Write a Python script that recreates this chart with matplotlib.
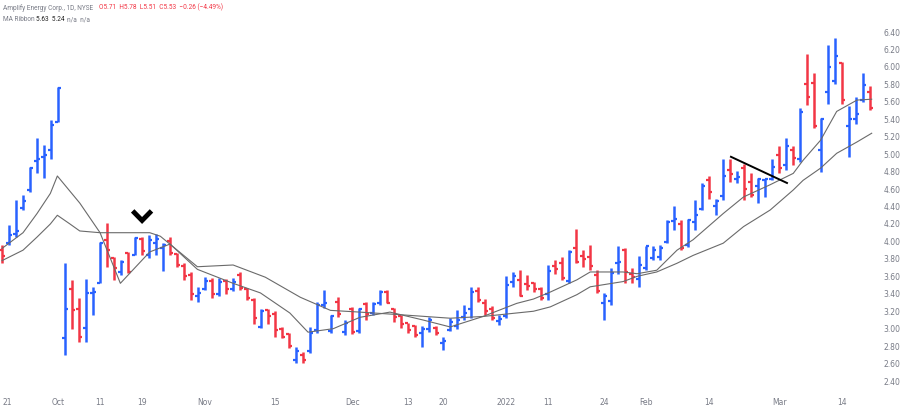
import matplotlib
matplotlib.use("Agg")
import matplotlib.pyplot as plt
import numpy as np

# OHLC per trading day (Sep 21 2021 .. Mar 18 2022)
opens = [3.90,3.98,4.08,4.38,4.59,4.92,4.97,5.05,5.37,2.89,3.45,3.23,3.01,3.41,3.52,4.02,3.81,3.65,3.87,3.85,
         4.03,3.84,3.98,3.93,4.00,3.86,3.72,3.62,3.38,3.46,3.55,3.40,3.55,3.46,3.62,3.45,3.33,3.02,3.21,3.17,
         3.00,2.94,2.64,2.70,2.74,2.98,3.27,2.97,3.31,2.96,3.22,2.97,3.28,3.18,3.30,3.42,3.22,3.15,3.06,3.03,
         2.95,3.00,3.01,2.84,2.99,3.03,3.13,3.22,3.43,3.30,3.22,3.09,3.14,3.53,3.56,3.51,3.52,3.46,3.40,3.72,
         3.75,3.55,3.92,3.83,3.82,3.62,3.30,3.32,3.75,3.90,3.63,3.57,3.69,3.81,3.82,3.99,4.23,4.20,3.96,4.22,
         4.37,4.70,4.41,4.52,4.82,4.72,4.84,4.68,4.64,4.70,4.72,4.99,4.88,5.05,4.94,5.80,5.82,5.05,5.71,5.84,
         6.05,5.32,5.40,5.62,5.71]
highs = [3.96,4.19,4.47,4.53,4.85,5.18,5.10,5.39,5.77,3.75,3.56,3.35,3.57,3.48,3.99,4.21,3.82,3.79,3.88,4.05,
         4.05,4.07,4.08,3.98,4.05,3.87,3.75,3.65,3.48,3.59,3.58,3.58,3.57,3.58,3.65,3.47,3.35,3.22,3.22,3.20,
         3.02,2.95,2.79,2.73,3.02,3.31,3.44,3.16,3.36,3.10,3.25,3.24,3.31,3.31,3.44,3.44,3.24,3.16,3.07,3.04,
         3.03,3.13,3.03,2.90,3.12,3.21,3.27,3.48,3.48,3.34,3.26,3.16,3.60,3.645,3.67,3.615,3.54,3.48,3.73,3.79,
         3.825,3.90,4.14,3.90,3.96,3.67,3.405,3.69,3.95,3.92,3.69,3.83,3.95,3.95,3.96,4.245,4.41,4.245,4.26,4.47,
         4.67,4.75,4.49,4.94,4.95,4.81,4.89,4.79,4.73,4.72,4.94,5.09,5.18,5.09,5.525,6.15,5.93,5.42,6.25,6.33,
         6.06,5.55,5.66,5.93,5.78]
lows = [3.75,3.96,4.05,4.36,4.57,4.78,4.73,4.95,5.37,2.70,3.00,2.85,2.85,3.16,3.52,3.71,3.56,3.62,3.64,3.84,
        3.84,3.81,3.84,3.66,3.84,3.71,3.56,3.33,3.31,3.44,3.35,3.37,3.40,3.43,3.44,3.33,3.05,3.01,3.05,2.90,
        2.89,2.78,2.61,2.61,2.72,2.95,3.24,2.95,3.13,2.93,2.94,2.95,3.10,3.16,3.27,3.29,3.08,3.01,2.95,2.90,
        2.79,2.96,2.93,2.76,2.97,3.00,3.10,3.12,3.31,3.16,3.10,3.04,3.12,3.48,3.37,3.44,3.42,3.33,3.33,3.63,
        3.56,3.52,3.75,3.71,3.67,3.405,3.10,3.27,3.63,3.52,3.52,3.48,3.67,3.79,3.79,3.98,4.13,3.90,3.94,4.13,
        4.36,4.49,4.30,4.47,4.685,4.666,4.48,4.51,4.44,4.51,4.70,4.79,4.82,4.88,4.91,5.56,5.30,4.80,5.58,5.80,
        5.58,4.97,5.35,5.60,5.51]
closes = [3.83,4.07,4.12,4.46,4.84,4.94,4.99,5.33,5.76,3.23,3.21,2.90,3.41,3.42,3.98,3.90,3.69,3.76,3.65,4.04,
          3.89,4.02,4.03,3.96,3.87,3.73,3.60,3.40,3.41,3.55,3.40,3.53,3.45,3.53,3.47,3.35,3.12,3.20,3.15,2.98,
          2.91,2.80,2.74,2.64,2.95,3.27,3.30,3.15,3.17,3.07,2.96,3.22,3.17,3.28,3.42,3.30,3.13,3.05,2.98,2.93,
          3.00,3.10,2.95,2.86,3.08,3.10,3.18,3.42,3.33,3.20,3.12,3.11,3.50,3.60,3.38,3.49,3.45,3.35,3.66,3.68,
          3.58,3.88,3.76,3.80,3.72,3.43,3.38,3.64,3.77,3.65,3.59,3.73,3.95,3.90,3.93,4.22,4.26,3.93,4.25,4.30,
          4.64,4.57,4.46,4.75,4.77,4.74,4.60,4.53,4.71,4.71,4.85,4.84,5.09,4.96,5.48,5.65,5.32,5.40,6.00,6.12,
          5.62,5.40,5.46,5.79,5.53]

# MA ribbon lines (bar index, price)
fast_idx = [0,3,5,6.9,7.9,11.1,14,16.9,21.1,24,27.9,33,36.9,41.1,43.7,47.3,51.1,55.4,60.1,64,68.7,73.5,75.9,78.3,
            82.1,84,88.7,90.7,93.5,96.4,98.7,103,105.9,109.7,113,114.4,116.9,119.2,122.1,124.2]
fast_val = [3.92,4.10,4.32,4.55,4.75,4.44,4.10,3.52,3.88,3.97,3.68,3.52,3.41,3.18,2.96,3.00,3.13,3.19,3.10,3.02,
            3.14,3.29,3.34,3.42,3.56,3.65,3.65,3.63,3.67,3.90,4.02,4.32,4.51,4.65,4.78,4.93,5.16,5.49,5.62,5.63]
slow_idx = [0,3,5,6.9,7.9,9.7,11.1,14,18.3,21.1,22.6,27.9,33,37.6,42.6,46.9,51.1,56.9,64,68.7,73.5,75.9,78.3,
            82.1,84,88.7,90.7,93.5,96.4,98.7,103,105.9,109.7,113,114.4,116.9,119.2,122.1,124.2]
slow_val = [3.78,3.90,4.05,4.20,4.30,4.20,4.12,4.10,4.10,4.10,4.06,3.71,3.73,3.59,3.36,3.21,3.19,3.16,3.12,
            3.14,3.18,3.20,3.25,3.39,3.48,3.54,3.60,3.65,3.75,3.84,3.98,4.17,4.36,4.59,4.70,4.84,5.01,5.14,5.24]

xtick_pos = [0,8,14,20,29,39,50,58,63,72,78,86,92,101,111,120]
xtick_lab = ["21","Oct","11","19","Nov","15","Dec","13","20","2022","11","24","Feb","14","Mar","14"]
ytick_vals = [2.4,2.6,2.8,3.0,3.2,3.4,3.6,3.8,4.0,4.2,4.4,4.6,4.8,5.0,5.2,5.4,5.6,5.8,6.0,6.2,6.4]

BLUE = "#2962FF"
RED = "#F23645"
GREY = "#787B86"

fig = plt.figure(figsize=(9, 4.09), dpi=100)
ax = fig.add_axes([0, 14/409, 878/900, 395/409])

for i in range(len(opens)):
    c = BLUE if closes[i] >= opens[i] else RED
    ax.plot([i, i], [lows[i], highs[i]], color=c, lw=1.8, solid_capstyle="butt")
    ax.plot([i - 0.42, i], [opens[i], opens[i]], color=c, lw=1.6, solid_capstyle="butt")
    ax.plot([i, i + 0.42], [closes[i], closes[i]], color=c, lw=1.6, solid_capstyle="butt")

ax.plot(fast_idx, fast_val, color="#6a6a6a", lw=0.8)
ax.plot(slow_idx, slow_val, color="#6a6a6a", lw=0.8)

# annotations
ax.plot([18.9, 20.0, 21.1], [4.33, 4.24, 4.33], color="black", lw=3.5, solid_joinstyle="miter")
ax.plot([104.1, 112.1], [4.97, 4.67], color="black", lw=1.4)

ax.set_xlim(-0.29, 125.1)
ax.set_ylim(2.24, 6.767)
ax.yaxis.tick_right()
ax.set_yticks(ytick_vals)
ax.set_yticklabels([f"{v:.2f}" for v in ytick_vals])
ax.set_xticks(xtick_pos)
ax.set_xticklabels(xtick_lab)
ax.tick_params(axis="both", length=0, labelsize=5.5, labelcolor=GREY)
ax.tick_params(axis="y", pad=4)
ax.tick_params(axis="x", pad=2)
ax.get_xticklabels()[0].set_horizontalalignment("left")
for s in ax.spines.values():
    s.set_visible(False)

fs = 4.7
ff = "Roboto"
fig.text(3/900, 1 - 4/409, "Amplify Energy Corp., 1D, NYSE", fontsize=fs, color=GREY, va="top", family=ff)
fig.text(99/900, 1 - 4/409, "O5.71  H5.78  L5.51  C5.53  \u22120.26 (\u22124.49%)", fontsize=fs, color=RED, va="top", family=ff)
fig.text(3/900, 1 - 16/409, "MA Ribbon", fontsize=fs, color=GREY, va="top", family=ff)
fig.text(36/900, 1 - 16/409, "5.63  5.24", fontsize=fs, color="#222222", va="top", family=ff)
fig.text(67/900, 1 - 16/409, "n/a  n/a", fontsize=fs, color=GREY, va="top", family=ff)

fig.savefig("out.png", dpi=100)
